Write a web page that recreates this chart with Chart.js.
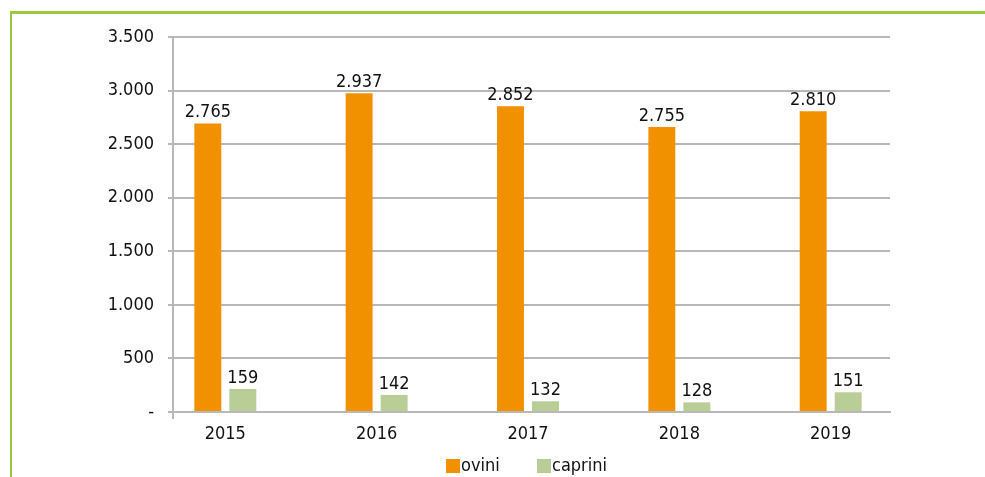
<!DOCTYPE html>
<html>
<head>
<meta charset="utf-8">
<script src="https://cdn.jsdelivr.net/npm/chart.js@4.4.1/dist/chart.umd.min.js"></script>
<style>
  body { margin: 0; background: #fff; }
  #wrap { position: relative; width: 985px; height: 477px; overflow: hidden; }
  #frame {
    position: absolute; left: 10px; top: 11px; right: 0; bottom: 0;
    border-top: 3px solid #9cc944;
    border-left: 2px solid #9cc944;
  }
  canvas { position: absolute; left: 0; top: 0; }
</style>
</head>
<body>
<div id="wrap">
  <div id="frame"></div>
  <canvas id="chart" width="985" height="477"></canvas>
</div>
<script>
const years = ['2015', '2016', '2017', '2018', '2019'];
const ovini = [2693, 2976, 2854, 2659, 2808];
const caprini = [215, 159, 100, 90, 184];
const oviniLabels = ['2.765', '2.937', '2.852', '2.755', '2.810'];
const capriniLabels = ['159', '142', '132', '128', '151'];
const yTicks = [0, 500, 1000, 1500, 2000, 2500, 3000, 3500];

const FONT = "'DejaVu Sans Condensed', 'DejaVu Sans', sans-serif";
const gridGray = '#b8b8b8';

function fmt(v) {
  if (v === 0) return '-';
  return String(v).replace(/\B(?=(\d{3})+(?!\d))/g, '.');
}

// value labels above bars + legend under the axis
const extras = {
  id: 'extras',
  afterDatasetsDraw(chart) {
    const ctx = chart.ctx;
    const sets = [oviniLabels, capriniLabels];
    ctx.save();
    ctx.font = '18px ' + FONT;
    ctx.fillStyle = '#111';
    ctx.textAlign = 'center';
    ctx.textBaseline = 'bottom';
    sets.forEach((labels, d) => {
      chart.getDatasetMeta(d).data.forEach((bar, i) => {
        ctx.fillText(labels[i], bar.x, bar.y - 2);
      });
    });

    // little stub of the y axis below zero
    const a = chart.chartArea;
    ctx.strokeStyle = gridGray;
    ctx.lineWidth = 2;
    ctx.beginPath();
    ctx.moveTo(a.left, a.bottom);
    ctx.lineTo(a.left, a.bottom + 7);
    ctx.stroke();

    // legend
    let x = 446;
    const y = 466;
    ctx.textAlign = 'left';
    ctx.textBaseline = 'middle';
    chart.data.datasets.forEach((ds, d) => {
      ctx.fillStyle = ds.backgroundColor;
      ctx.fillRect(x, y - 7, 14, 14);
      ctx.fillStyle = '#111';
      ctx.fillText(ds.label, x + 15, y);
      x += 91;
    });
    ctx.restore();
  }
};

new Chart(document.getElementById('chart'), {
  type: 'bar',
  data: {
    datasets: [
      {
        label: 'ovini',
        data: ovini.map((v, i) => ({ x: i, y: v })),
        backgroundColor: '#f29100'
      },
      {
        label: 'caprini',
        data: caprini.map((v, i) => ({ x: i, y: v })),
        backgroundColor: '#b9cd96'
      }
    ]
  },
  options: {
    responsive: false,
    animation: false,
    categoryPercentage: 0.4625,
    barPercentage: 0.77,
    layout: { padding: { left: 0, right: 95, top: 37, bottom: 0 } },
    plugins: {
      legend: { display: false },
      tooltip: { enabled: false }
    },
    scales: {
      x: {
        type: 'linear',
        offset: false,
        min: -0.3456,
        max: 4.392,
        afterBuildTicks: (scale) => { scale.ticks = years.map((_, i) => ({ value: i })); },
        afterFit: (scale) => { scale.height = 65; },
        grid: { display: false, drawTicks: false, offset: false },
        border: { display: true, color: gridGray, width: 2 },
        ticks: {
          padding: 12,
          autoSkip: false,
          maxRotation: 0,
          color: '#111',
          font: { family: FONT, size: 18 },
          callback: (v) => years[v]
        }
      },
      y: {
        min: 0,
        max: 3500,
        afterBuildTicks: (scale) => { scale.ticks = yTicks.map(v => ({ value: v })); },
        afterFit: (scale) => { scale.width = 173; },
        grid: { color: gridGray, lineWidth: 2, tickLength: 5 },
        border: { color: gridGray, width: 2 },
        ticks: {
          padding: 14,
          color: '#111',
          font: { family: FONT, size: 18 },
          callback: (v) => fmt(v)
        }
      }
    }
  },
  plugins: [extras]
});
</script>
</body>
</html>
